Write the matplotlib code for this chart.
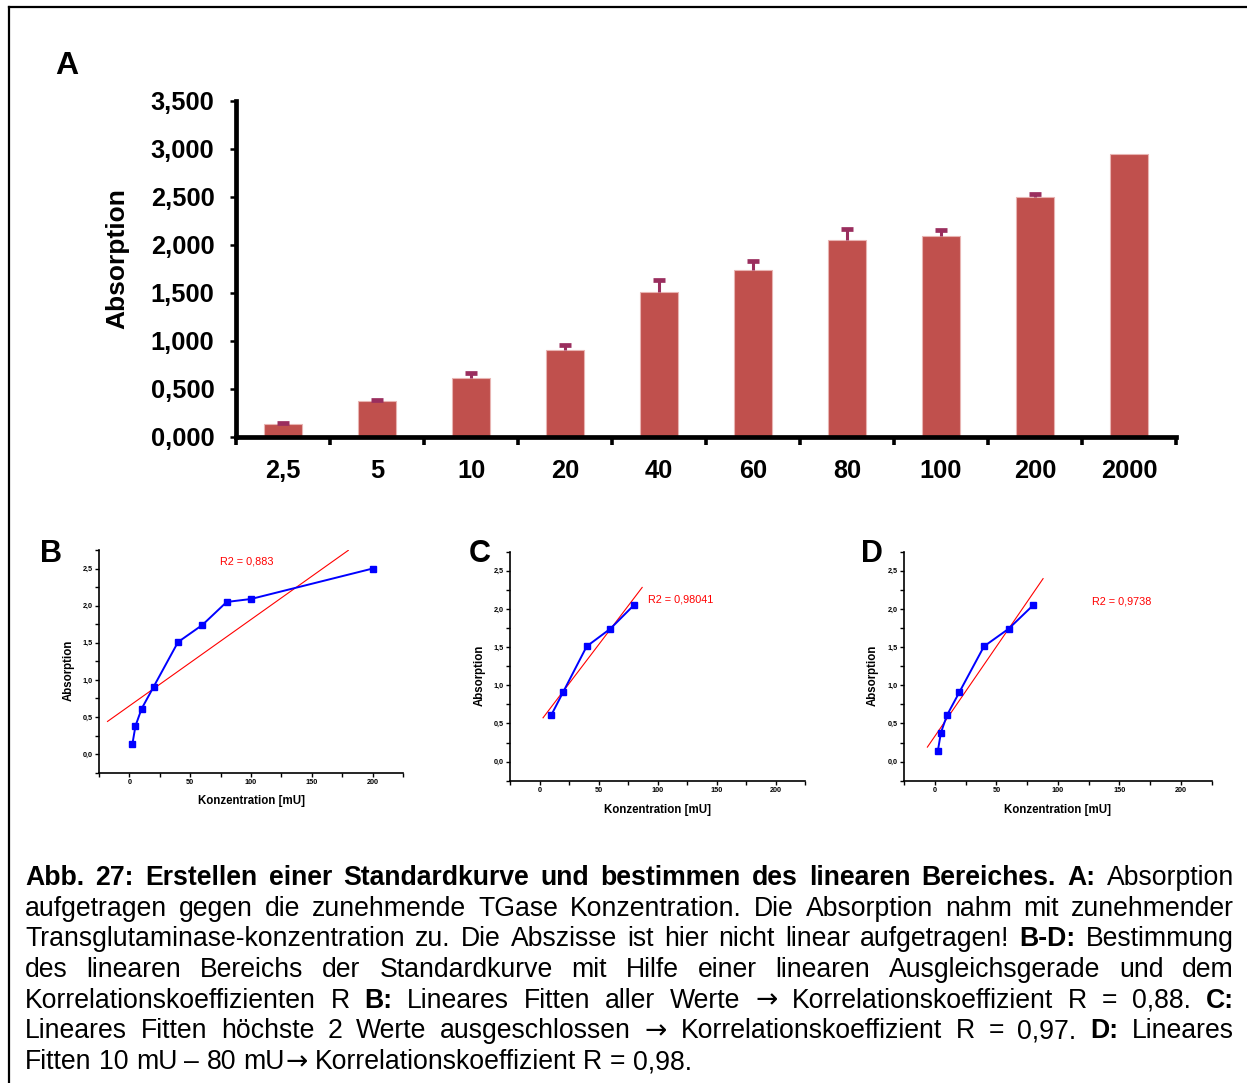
import numpy as np
import matplotlib
matplotlib.use("Agg")
import matplotlib.pyplot as plt
from matplotlib.lines import Line2D
from matplotlib.ticker import MultipleLocator, FixedLocator, FuncFormatter

# ── Config ─────────────────────────────────────────────────────────────────────
W, H = 1247, 1083
DPI = 100
plt.rcParams["font.family"] = ["Liberation Sans", "DejaVu Sans"]

C_BAR = "#C0504D"
C_BAR_EDGE = "#E8B4B2"
C_ERR = "#9A2E5E"
C_PTS = "#0000FF"
C_FIT = "#FF0000"

# ── Data ───────────────────────────────────────────────────────────────────────
conc_labels = ["2,5", "5", "10", "20", "40", "60", "80", "100", "200", "2000"]
conc_values = [2.5, 5, 10, 20, 40, 60, 80, 100, 200, 2000]
absorption = [0.14, 0.38, 0.61, 0.91, 1.51, 1.74, 2.05, 2.09, 2.50, 2.95]
abs_err = [0.01, 0.01, 0.06, 0.045, 0.13, 0.095, 0.12, 0.07, 0.03, 0.0]

# panels B-D: which points enter each fit (indices into the arrays above)
idx_b = [0, 1, 2, 3, 4, 5, 6, 7, 8]
idx_c = [2, 3, 4, 5, 6]
idx_d = [0, 1, 2, 3, 4, 5, 6]

# fitted lines: intercept, slope, x range
fit_b = (0.65, 0.01164, -18, 180)
fit_c = (0.513, 0.02033, 3, 87)
fit_d = (0.331, 0.02348, -6, 88)

r2_b = "R2 = 0,883"
r2_c = "R2 = 0,98041"
r2_d = "R2 = 0,9738"


def px_rect(left, top, right, bottom):
    return [left / W, 1 - bottom / H, (right - left) / W, (bottom - top) / H]


fig = plt.figure(figsize=(W / DPI, H / DPI), dpi=DPI)
fig.patch.set_facecolor("white")

# frame lines (top and left)
fig.add_artist(Line2D([9 / W, 1], [1 - 7 / H, 1 - 7 / H], color="black", lw=1.6))
fig.add_artist(Line2D([9 / W, 9 / W], [0, 1 - 7 / H], color="black", lw=1.6))

# ── Panel A: bar chart ─────────────────────────────────────────────────────────
ax = fig.add_axes(px_rect(236, 101, 1176, 437))
pos = np.arange(len(conc_labels))
mean = np.array(absorption)
err = np.array(abs_err)
ax.bar(pos, mean, width=0.4, color=C_BAR, edgecolor=C_BAR_EDGE,
       linewidth=0.8, zorder=2)
# upper error bars only (no cap at the bar top)
mask = err > 0
ax.vlines(pos[mask], mean[mask], mean[mask] + err[mask], color=C_ERR,
          lw=2.2, zorder=3)
ax.plot(pos[mask], mean[mask] + err[mask], ls="none", marker="_",
        markersize=9, mew=3.4, color=C_ERR, zorder=3)

ax.set_xlim(-0.5, 9.5)
ax.set_ylim(0, 3.5)
for s in ["top", "right"]:
    ax.spines[s].set_visible(False)
for s in ["left", "bottom"]:
    ax.spines[s].set_linewidth(3.4)

ax.set_xticks(pos)
ax.set_xticklabels(conc_labels, fontsize=18.3, fontweight="bold")
ax.xaxis.set_minor_locator(FixedLocator(np.arange(-0.5, 10, 1)))
ax.tick_params(axis="x", which="major", length=0, pad=16)
ax.tick_params(axis="x", which="minor", length=5.5, width=2.6, direction="out")

ax.set_yticks(np.arange(0, 3.51, 0.5))
ax.yaxis.set_major_formatter(FuncFormatter(lambda v, _: f"{v:.3f}".replace(".", ",")))
ax.tick_params(axis="y", length=4.5, width=1.8, direction="out", pad=11,
               labelsize=18.3)
for lab in ax.get_yticklabels():
    lab.set_fontweight("bold")
ax.set_ylabel("Absorption", fontsize=19, fontweight="bold", va="center")
ax.yaxis.set_label_coords((117 - 236) / 940, 0.53)

fig.text(55 / W, 1 - 73.5 / H, "A", fontsize=23, fontweight="bold",
         ha="left", va="baseline")


# ── Panels B-D: fits ───────────────────────────────────────────────────────────
def fit_panel(rect, idx, fit, r2_text, r2_xy, letter, letter_px, ylab_x):
    a = fig.add_axes(rect)
    xs = [conc_values[i] for i in idx]
    ys = [absorption[i] for i in idx]
    b0, b1, x0, x1 = fit
    fx = np.array([x0, x1])
    a.plot(fx, b0 + b1 * fx, color=C_FIT, lw=0.8, zorder=2)
    a.plot(xs, ys, color=C_PTS, lw=1.4, marker="s", markersize=4.2, zorder=3)
    a.text(r2_xy[0], r2_xy[1], r2_text, color=C_FIT, fontsize=7.8,
           ha="left", va="center")
    a.set_xlim(-25, 225)
    a.set_ylim(-0.25, 2.75)
    for s in ["top", "right"]:
        a.spines[s].set_visible(False)
    for s in ["left", "bottom"]:
        a.spines[s].set_linewidth(1.2)
    a.xaxis.set_major_locator(FixedLocator([0, 50, 100, 150, 200]))
    a.xaxis.set_minor_locator(MultipleLocator(25))
    a.yaxis.set_major_locator(FixedLocator([0, 0.5, 1.0, 1.5, 2.0, 2.5]))
    a.yaxis.set_minor_locator(MultipleLocator(0.25))
    a.yaxis.set_major_formatter(FuncFormatter(lambda v, _: f"{v:.1f}".replace(".", ",")))
    a.xaxis.set_major_formatter(FuncFormatter(lambda v, _: f"{int(v)}"))
    a.tick_params(which="both", direction="out", length=2.6, width=1.0,
                  labelsize=5.2, pad=2)
    for lab in a.get_xticklabels() + a.get_yticklabels():
        lab.set_fontweight("bold")
    a.set_xlabel("Konzentration [mU]", fontsize=8.3, fontweight="bold")
    a.xaxis.set_label_coords(0.5, -0.128)
    a.xaxis.label.set_va("center")
    a.set_ylabel("Absorption", fontsize=8.3, fontweight="bold", va="center")
    a.yaxis.set_label_coords(ylab_x, 0.46)
    fig.text(letter_px[0] / W, 1 - letter_px[1] / H, letter, fontsize=22,
             fontweight="bold", ha="left", va="baseline")
    return a


fit_panel(px_rect(99, 550, 403, 772.7), idx_b, fit_b, r2_b, (74.6, 2.6),
          "B", (40.5, 562), -0.0987)
fit_panel(px_rect(510, 551.7, 805, 780.7), idx_c, fit_c, r2_c, (91.7, 2.13),
          "C", (469, 562), -0.1017)
fit_panel(px_rect(904, 551.7, 1211.7, 780.7), idx_d, fit_d, r2_d, (128, 2.10),
          "D", (861, 562), -0.1007)

# ── Caption (justified) ────────────────────────────────────────────────────────
ARROW = "\u2192"
caption = [
    [("Abb. 27: Erstellen einer Standardkurve und bestimmen des linearen Bereiches. A:", True),
     ("Absorption", False)],
    [("aufgetragen gegen die zunehmende TGase Konzentration. Die Absorption nahm mit zunehmender", False)],
    [("Transglutaminase-konzentration zu. Die Abszisse ist hier nicht linear aufgetragen!", False),
     ("B-D:", True), ("Bestimmung", False)],
    [("des linearen Bereichs der Standardkurve mit Hilfe einer linearen Ausgleichsgerade und dem", False)],
    [("Korrelationskoeffizienten R", False), ("B:", True),
     (f"Lineares Fitten aller Werte {ARROW} Korrelationskoeffizient R = 0,88.", False), ("C:", True)],
    [(f"Lineares Fitten höchste 2 Werte ausgeschlossen {ARROW} Korrelationskoeffizient R = 0,97.", False),
     ("D:", True), ("Lineares", False)],
    [(f"Fitten 10 mU \u2013 80 mU{ARROW} Korrelationskoeffizient R = 0,98.", False)],
]
CAP_L, CAP_R = 25, 1234
CAP_FS = 19.2
base0, step = 885, 30.67

renderer = fig.canvas.get_renderer()


def make_text(s, bold, y):
    fam = ["DejaVu Sans"] if s == ARROW else ["Liberation Sans", "DejaVu Sans"]
    return fig.text(0, y, s, fontsize=CAP_FS, family=fam,
                    fontweight="bold" if bold else "normal",
                    ha="left", va="baseline")


def width_of(t):
    return t.get_window_extent(renderer).width


tmp1, tmp2 = make_text("a a", False, 0), make_text("aa", False, 0)
space_w = width_of(tmp1) - width_of(tmp2)
tmp1.remove()
tmp2.remove()

for k, line in enumerate(caption):
    y = 1 - (base0 + k * step) / H
    words = []  # each word: list of Text pieces drawn side by side
    for seg, bold in line:
        for w in seg.split(" "):
            parts = []
            for j, p in enumerate(w.split(ARROW)):
                if j > 0:
                    parts.append(make_text(ARROW, bold, y))
                if p:
                    parts.append(make_text(p, bold, y))
            words.append(parts)
    widths = [sum(width_of(t) for t in parts) for parts in words]
    if k < len(caption) - 1:
        gap = (CAP_R - CAP_L - sum(widths)) / (len(words) - 1)
    else:
        gap = space_w
    x = CAP_L
    for parts, w in zip(words, widths):
        xp = x
        for t in parts:
            t.set_x(xp / W)
            xp += width_of(t)
        x += w + gap

fig.savefig("out.png", dpi=DPI, facecolor="white")
